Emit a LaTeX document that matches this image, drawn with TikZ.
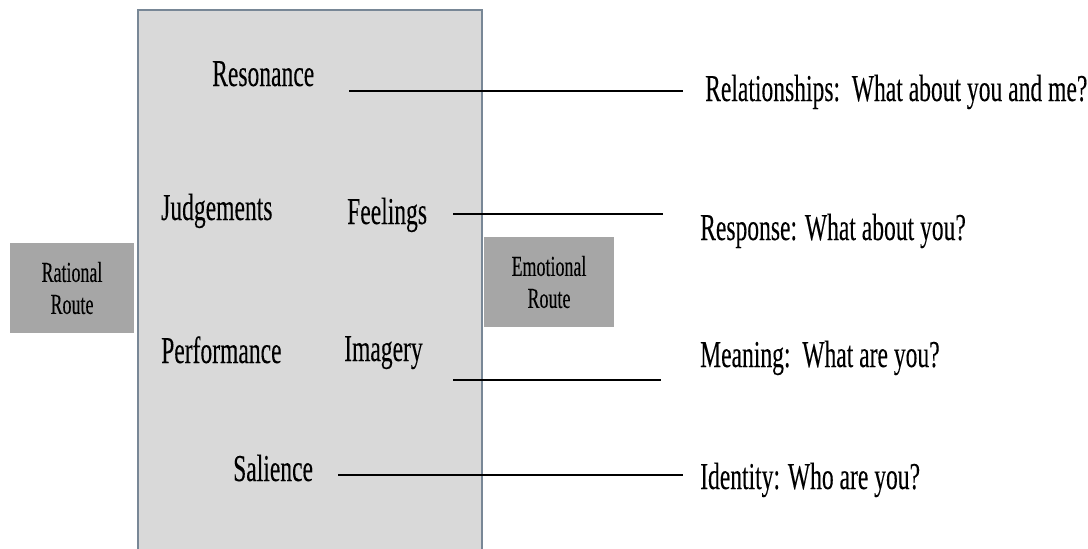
\documentclass[tikz,border=0pt]{standalone}
\usepackage{fontspec}
\setmainfont{Liberation Serif}[FakeStretch=0.62,FakeBold=0.15]
\begin{document}
\begin{tikzpicture}[x=1pt,y=-1pt,
  lbl/.style={anchor=base west,inner sep=0pt,text=black,font=\fontsize{38}{42}\selectfont},
  routebox/.style={fill=routegray,inner sep=0pt,align=center,text=black,
    font=\fontsize{29}{32}\selectfont},
  link/.style={line width=2.8pt,black}]
\definecolor{panelgray}{RGB}{217,217,217}
\definecolor{routegray}{RGB}{166,166,166}
\definecolor{panelborder}{RGB}{120,135,150}
\useasboundingbox (0,0) rectangle (1088,549);
\clip (0,0) rectangle (1088,549);
\fill[white] (0,0) rectangle (1088,549);

% central panel, running off the bottom edge
\draw[fill=panelgray,draw=panelborder,line width=1.2pt] (138,10) rectangle (482,570);

% side route boxes
\node[routebox,minimum width=124pt,minimum height=90pt] (rational) at (72,288) {Rational\\Route};
\node[routebox,minimum width=130pt,minimum height=90pt] (emotional) at (549,282) {Emotional\\Route};

% levels inside the panel
\node[lbl] (resonance) at (212,86) {Resonance};
\node[lbl] (judgements) at (161,220) {Judgements};
\node[lbl] (feelings) at (347,224) {Feelings};
\node[lbl] (performance) at (161,363) {Performance};
\node[lbl] (imagery) at (344,361) {Imagery};
\node[lbl] (salience) at (233,481) {Salience};

% questions on the right
\node[lbl] (relationships) at (705,101) {Relationships:\ \ What about you and me?};
\node[lbl] (response) at (700,240) {Response: What about you?};
\node[lbl] (meaning) at (700,367) {Meaning:\ \ What are you?};
\node[lbl] (identity) at (700,489) {Identity: Who are you?};

% connector end points
\coordinate (resA) at (349,91);   \coordinate (resB) at (683,91);
\coordinate (feeA) at (453,214);  \coordinate (feeB) at (663,214);
\coordinate (imaA) at (453,380);  \coordinate (imaB) at (661,380);
\coordinate (salA) at (338,475);  \coordinate (salB) at (683,475);

\draw[link] (resA) -- (resB);
\draw[link] (feeA) -- (feeB);
\draw[link] (imaA) -- (imaB);
\draw[link] (salA) -- (salB);
\end{tikzpicture}
\end{document}
